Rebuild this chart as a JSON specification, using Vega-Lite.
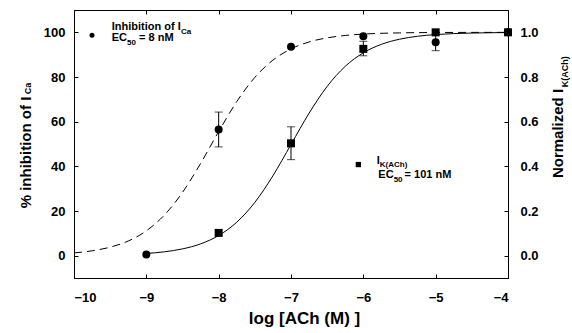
{
  "$schema": "https://vega.github.io/schema/vega-lite/v6.json",
  "width": 434,
  "height": 268,
  "autosize": {"type": "none"},
  "padding": {"left": 74, "top": 10, "right": 64, "bottom": 55},
  "background": "white",
  "config": {
    "view": {"stroke": "black", "strokeWidth": 1},
    "axis": {
      "grid": false,
      "domainColor": "black",
      "tickColor": "black",
      "labelColor": "black",
      "titleColor": "black",
      "labelFont": "Liberation Sans",
      "titleFont": "Liberation Sans",
      "labelFontSize": 13,
      "labelFontWeight": "bold",
      "titleFontSize": 15,
      "titleFontWeight": "bold",
      "tickSize": -4
    },
    "text": {"font": "Liberation Sans", "fontWeight": "bold", "color": "black"}
  },
  "datasets": {
    "circ": [
      {"x": -9, "y": 0.5}, {"x": -8, "y": 56.5}, {"x": -7, "y": 93.5},
      {"x": -6, "y": 98.3}, {"x": -5, "y": 95.6}, {"x": -4, "y": 100}
    ],
    "circErr": [
      {"x": -8, "y": 48.7, "hi": 64.3},
      {"x": -5, "y": 91.8, "hi": 99.2}
    ],
    "circCap": [
      {"x": -8, "y": 48.7}, {"x": -8, "y": 64.3},
      {"x": -5, "y": 91.8}, {"x": -5, "y": 99.2}
    ],
    "dash": [
      {"x": -10, "y": 1.23}, {"x": -9.75, "y": 2.17}, {"x": -9.5, "y": 3.81}, {"x": -9.25, "y": 6.57},
      {"x": -9, "y": 11.11}, {"x": -8.75, "y": 18.19}, {"x": -8.5, "y": 28.33}, {"x": -8.25, "y": 41.29},
      {"x": -8, "y": 55.56}, {"x": -7.75, "y": 68.98}, {"x": -7.5, "y": 79.82}, {"x": -7.25, "y": 87.55},
      {"x": -7, "y": 92.59}, {"x": -6.75, "y": 95.7}, {"x": -6.5, "y": 97.53}, {"x": -6.25, "y": 98.6},
      {"x": -6, "y": 99.21}, {"x": -5.5, "y": 99.75}, {"x": -5, "y": 99.92}, {"x": -4.5, "y": 99.97},
      {"x": -4, "y": 99.99}
    ],
    "sq": [
      {"x": -8, "y": 0.102}, {"x": -7, "y": 0.503}, {"x": -6, "y": 0.926},
      {"x": -5, "y": 1.0}, {"x": -4, "y": 1.0}
    ],
    "sqErr": [
      {"x": -7, "y": 0.43, "hi": 0.577},
      {"x": -6, "y": 0.895, "hi": 0.96}
    ],
    "sqCap": [
      {"x": -7, "y": 0.43}, {"x": -7, "y": 0.577},
      {"x": -6, "y": 0.895}, {"x": -6, "y": 0.96}
    ],
    "solid": [
      {"x": -9, "y": 0.0098}, {"x": -8.75, "y": 0.0173}, {"x": -8.5, "y": 0.0304}, {"x": -8.25, "y": 0.0528},
      {"x": -8, "y": 0.0902}, {"x": -7.75, "y": 0.1498}, {"x": -7.5, "y": 0.2386}, {"x": -7.25, "y": 0.3578},
      {"x": -7, "y": 0.4977}, {"x": -6.75, "y": 0.638}, {"x": -6.5, "y": 0.758}, {"x": -6.25, "y": 0.8478},
      {"x": -6, "y": 0.9083}, {"x": -5.75, "y": 0.9463}, {"x": -5.5, "y": 0.9691}, {"x": -5.25, "y": 0.9824},
      {"x": -5, "y": 0.99}, {"x": -4.75, "y": 0.9944}, {"x": -4.5, "y": 0.9968}, {"x": -4.25, "y": 0.9982},
      {"x": -4, "y": 0.999}
    ],
    "legendCirc": [{"x": -9.751, "y": 98.7}],
    "legendSq": [{"x": -6.069, "y": 40.8}],
    "ann": [
      {"x": -9.479, "y": 102.6, "text": "Inhibition of I", "kind": "main"},
      {"x": -8.521, "y": 100.0, "text": "Ca", "kind": "sub"},
      {"x": -9.479, "y": 97.3, "text": "EC", "kind": "main"},
      {"x": -9.267, "y": 95.2, "text": "50", "kind": "sub"},
      {"x": -9.1, "y": 97.3, "text": "= 8 nM", "kind": "main"},
      {"x": -5.815, "y": 42.4, "text": "I", "kind": "main"},
      {"x": -5.772, "y": 40.6, "text": "K(ACh)", "kind": "sub"},
      {"x": -5.793, "y": 36.3, "text": "EC", "kind": "main"},
      {"x": -5.581, "y": 34.1, "text": "50", "kind": "sub"},
      {"x": -5.43, "y": 36.3, "text": "= 101 nM", "kind": "main"},
      {"x": -10.636, "y": 74.9, "text": "Ca", "kind": "vsub"},
      {"x": -3.212, "y": 82.3, "text": "K(ACh)", "kind": "vsub"}
    ]
  },
  "layer": [
    {
      "encoding": {
        "x": {
          "field": "x", "type": "quantitative",
          "scale": {"domain": [-10, -4], "nice": false, "zero": false},
          "axis": {"orient": "bottom", "values": [-10, -9, -8, -7, -6, -5, -4], "format": "d",
                   "title": "log [ACh (M) ]", "titleFontSize": 17, "labelPadding": 17, "titlePadding": 6,
                   "titleX": 230}
        },
        "y": {
          "field": "y", "type": "quantitative",
          "scale": {"domain": [-10, 110], "nice": false, "zero": false},
          "axis": {"orient": "left", "values": [0, 20, 40, 60, 80, 100],
                   "title": "% inhibition of I", "labelPadding": 13,
                   "titleX": -44, "titleY": 142, "titleBaseline": "alphabetic", "titleAngle": -90}
        }
      },
      "layer": [
        {"data": {"name": "dash"}, "mark": {"type": "line", "color": "black", "strokeWidth": 1, "strokeDash": [8, 5], "interpolate": "monotone"}},
        {"data": {"name": "circErr"}, "mark": {"type": "rule", "color": "black", "strokeWidth": 1},
         "encoding": {"y2": {"field": "hi"}}},
        {"data": {"name": "circCap"}, "mark": {"type": "tick", "orient": "horizontal", "color": "black", "size": 8, "thickness": 1}},
        {"data": {"name": "circ"}, "mark": {"type": "point", "shape": "circle", "filled": true, "color": "black", "size": 64, "opacity": 1}},
        {"data": {"name": "legendCirc"}, "mark": {"type": "point", "shape": "circle", "filled": true, "color": "black", "size": 25, "opacity": 1}},
        {"data": {"name": "legendSq"}, "mark": {"type": "point", "shape": "square", "filled": true, "color": "black", "size": 28, "opacity": 1}},
        {"data": {"name": "ann"}, "transform": [{"filter": "datum.kind === 'main'"}],
         "mark": {"type": "text", "align": "left", "baseline": "middle", "fontSize": 11},
         "encoding": {"text": {"field": "text"}}},
        {"data": {"name": "ann"}, "transform": [{"filter": "datum.kind === 'sub'"}],
         "mark": {"type": "text", "align": "left", "baseline": "middle", "fontSize": 8},
         "encoding": {"text": {"field": "text"}}},
        {"data": {"name": "ann"}, "transform": [{"filter": "datum.kind === 'vsub'"}],
         "mark": {"type": "text", "align": "center", "baseline": "middle", "fontSize": 9, "angle": 270},
         "encoding": {"text": {"field": "text"}}}
      ]
    },
    {
      "encoding": {
        "x": {
          "field": "x", "type": "quantitative",
          "scale": {"domain": [-10, -4], "nice": false, "zero": false},
          "axis": {"orient": "top", "values": [-10, -9, -8, -7, -6, -5, -4], "labels": false, "title": null}
        },
        "y": {
          "field": "y", "type": "quantitative",
          "scale": {"domain": [-0.1, 1.1], "nice": false, "zero": false},
          "axis": {"orient": "right", "values": [0, 0.2, 0.4, 0.6, 0.8, 1.0], "format": ".1f",
                   "title": "Normalized I", "labelPadding": 16,
                   "titleX": 54, "titleY": 123, "titleBaseline": "alphabetic", "titleAngle": -90}
        }
      },
      "layer": [
        {"data": {"name": "solid"}, "mark": {"type": "line", "color": "black", "strokeWidth": 1, "interpolate": "monotone"}},
        {"data": {"name": "sqErr"}, "mark": {"type": "rule", "color": "black", "strokeWidth": 1},
         "encoding": {"y2": {"field": "hi"}}},
        {"data": {"name": "sqCap"}, "mark": {"type": "tick", "orient": "horizontal", "color": "black", "size": 8, "thickness": 1}},
        {"data": {"name": "sq"}, "mark": {"type": "point", "shape": "square", "filled": true, "color": "black", "size": 64, "opacity": 1}}
      ]
    }
  ],
  "resolve": {"scale": {"y": "independent"}, "axis": {"x": "independent"}}
}
